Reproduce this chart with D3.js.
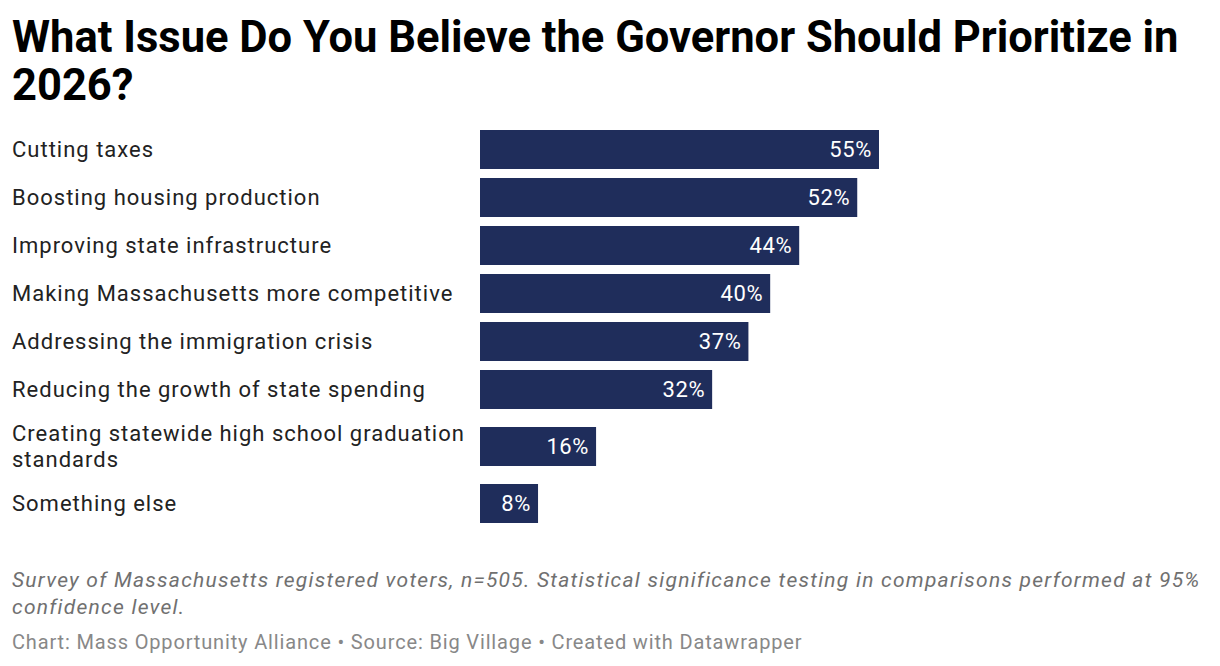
<!DOCTYPE html>
<html>
<head>
<meta charset="utf-8">
<script src="https://cdn.jsdelivr.net/npm/d3@7"></script>
<style>
  body { margin: 0; background: #fff; font-family: Roboto, sans-serif; }
</style>
</head>
<body>
<div id="chart"></div>
<script>
// Chart data
const categories = [
    'Cutting taxes',
    'Boosting housing production',
    'Improving state infrastructure',
    'Making Massachusetts more competitive',
    'Addressing the immigration crisis',
    'Reducing the growth of state spending',
    'Creating statewide high school graduation standards',
    'Something else'
];
const values = [55, 52, 44, 40, 37, 32, 16, 8];

const titleLines = ['What Issue Do You Believe the Governor Should Prioritize in', '2026?'];
const noteLines = [
    'Survey of Massachusetts registered voters, n=505. Statistical significance testing in comparisons performed at 95%',
    'confidence level.'
];
const footerText = 'Chart: Mass Opportunity Alliance \u2022 Source: Big Village \u2022 Created with Datawrapper';

function createBarChart(containerId = 'chart') {
    const W = 1220, H = 666;
    const labelX = 12;
    const labelWidth = 455;
    const barLeft = 480;
    const barMaxWidth = 399;
    const barHeight = 39;
    const firstTop = 130;

    const svg = d3.select(`#${containerId}`)
        .append('svg')
        .attr('width', W)
        .attr('height', H);

    // Title
    svg.append('text')
        .attr('x', labelX)
        .attr('y', 52)
        .style('font-size', '43.5px')
        .style('font-weight', '700')
        .style('fill', '#000')
        .selectAll('tspan')
        .data(titleLines)
        .enter()
        .append('tspan')
        .attr('x', labelX)
        .attr('dy', (d, i) => i === 0 ? 0 : 48)
        .text(d => d);

    // Wrap labels into lines using a measuring text
    const measure = svg.append('text')
        .style('font-size', '22px')
        .style('letter-spacing', '1px');
    function wrap(str) {
        const words = str.split(' ');
        const lines = [];
        let line = '';
        words.forEach(w => {
            const test = line ? line + ' ' + w : w;
            measure.text(test);
            if (measure.node().getComputedTextLength() > labelWidth && line) {
                lines.push(line);
                line = w;
            } else {
                line = test;
            }
        });
        lines.push(line);
        return lines;
    }
    const wrapped = categories.map(wrap);
    measure.remove();

    // Row layout: taller rows for wrapped labels
    const centers = [];
    let cursor = firstTop;
    wrapped.forEach(lines => {
        const rowH = 48 + (lines.length - 1) * 18;
        const extra = (lines.length - 1) * 9;
        centers.push(cursor + extra + barHeight / 2);
        cursor += rowH;
    });

    const y = d3.scaleOrdinal()
        .domain(categories)
        .range(centers);

    const x = d3.scaleLinear()
        .domain([0, 55])
        .range([0, barMaxWidth]);

    const rows = svg.selectAll('.row')
        .data(categories.map((c, i) => ({ category: c, value: values[i], lines: wrapped[i] })))
        .enter()
        .append('g')
        .attr('class', 'row');

    // Bars
    rows.append('rect')
        .attr('x', barLeft)
        .attr('y', d => y(d.category) - barHeight / 2)
        .attr('width', d => x(d.value))
        .attr('height', barHeight)
        .attr('fill', '#1f2d5b');

    // Value labels inside bars
    rows.append('text')
        .attr('x', d => barLeft + x(d.value) - 7)
        .attr('y', d => y(d.category))
        .attr('dy', '0.36em')
        .attr('text-anchor', 'end')
        .style('font-size', '22px')
        .style('letter-spacing', '0.6px')
        .style('fill', '#fff')
        .text(d => d.value + '%');

    // Category labels
    rows.append('text')
        .attr('x', labelX)
        .attr('y', d => y(d.category) - (d.lines.length - 1) * 13)
        .style('font-size', '22px')
        .style('letter-spacing', '1px')
        .style('fill', '#222')
        .selectAll('tspan')
        .data(d => d.lines)
        .enter()
        .append('tspan')
        .attr('x', labelX)
        .attr('dy', (d, i) => i === 0 ? '0.36em' : 26)
        .text(d => d);

    // Notes
    svg.append('text')
        .attr('x', labelX)
        .attr('y', 587)
        .style('font-size', '21px')
        .style('letter-spacing', '1.25px')
        .style('font-style', 'italic')
        .style('fill', '#707070')
        .selectAll('tspan')
        .data(noteLines)
        .enter()
        .append('tspan')
        .attr('x', labelX)
        .attr('dy', (d, i) => i === 0 ? 0 : 27)
        .text(d => d);

    // Footer
    svg.append('text')
        .attr('x', labelX)
        .attr('y', 649)
        .style('font-size', '20px')
        .style('letter-spacing', '0.85px')
        .style('fill', '#888')
        .text(footerText);
}

createBarChart();
</script>
</body>
</html>
